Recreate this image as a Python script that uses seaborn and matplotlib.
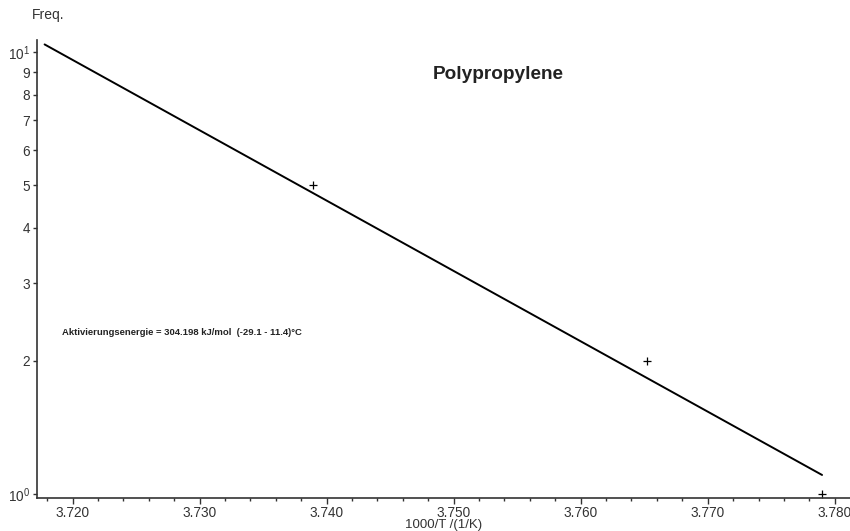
import matplotlib
matplotlib.use("Agg")
import matplotlib.pyplot as plt
import matplotlib.ticker as mticker
import seaborn as sns
import pandas as pd

# Measured points
inv_T = [3.7389, 3.7652, 3.7790]
freq = [5.0, 2.0, 1.0]
# Arrhenius fit line (end points)
fit_x = [3.7178, 3.7790]
fit_y = [10.4, 1.104]

x_ticks = [3.720, 3.730, 3.740, 3.750, 3.760, 3.770, 3.780]
x_tick_labels = ["3.720", "3.730", "3.740", "3.750", "3.760", "3.770", "3.780"]
y_major = [1, 10]
y_major_labels = [r"$\mathdefault{10^{0}}$", r"$\mathdefault{10^{1}}$"]
y_minor = [2, 3, 4, 5, 6, 7, 8, 9]
y_minor_labels = ["2", "3", "4", "5", "6", "7", "8", "9"]

title = "Polypropylene"
note = "Aktivierungsenergie = 304.198 kJ/mol  (-29.1 - 11.4)°C"

sns.set_theme(style="ticks")
plt.rcParams["font.family"] = ["Liberation Sans", "DejaVu Sans"]

fig = plt.figure(figsize=(8.5, 5.31), dpi=100)
ax = fig.add_axes([0.0435, 0.0621, 0.9565, 0.8625])

df_fit = pd.DataFrame({"x": fit_x, "y": fit_y})
df_pts = pd.DataFrame({"x": inv_T, "y": freq})
sns.lineplot(data=df_fit, x="x", y="y", ax=ax, color="black", linewidth=1.4)
sns.scatterplot(data=df_pts, x="x", y="y", ax=ax, marker="+", color="black",
                s=40, linewidth=0.9)

ax.set_yscale("log")
ax.set_xlim(3.7172, 3.7812)
ax.set_ylim(0.979, 10.64)

gray = "#333333"
ax.yaxis.set_major_locator(mticker.FixedLocator(y_major))
ax.yaxis.set_major_formatter(mticker.FixedFormatter(y_major_labels))
ax.yaxis.set_minor_locator(mticker.FixedLocator(y_minor))
ax.yaxis.set_minor_formatter(mticker.FixedFormatter(y_minor_labels))
ax.set_xticks(x_ticks)
ax.set_xticklabels(x_tick_labels)
ax.xaxis.set_minor_locator(mticker.MultipleLocator(0.002))

ax.tick_params(axis="both", which="both", direction="out", colors=gray,
               labelsize=9.8, width=1)
ax.tick_params(axis="x", which="major", length=4, pad=2)
ax.tick_params(axis="x", which="minor", length=2.5)
ax.tick_params(axis="y", which="both", length=3, pad=2)

for s in ["top", "right"]:
    ax.spines[s].set_visible(False)
for s in ["left", "bottom"]:
    ax.spines[s].set_color(gray)
    ax.spines[s].set_linewidth(1.2)

ax.set_xlabel("1000/T /(1/K)", fontsize=9.5, color=gray, labelpad=-1)
ax.set_ylabel("")
fig.text(0.038, 0.972, "Freq.", fontsize=10, color=gray, ha="left", va="center")

ax.text(0.567, 0.924, title, transform=ax.transAxes, fontsize=13.7,
        fontweight="bold", color="#222222", ha="center", va="center")
ax.text(0.031, 0.362, note, transform=ax.transAxes, fontsize=6.8,
        fontweight="bold", color="#222222", ha="left", va="center")

fig.savefig("out.png", dpi=100)
